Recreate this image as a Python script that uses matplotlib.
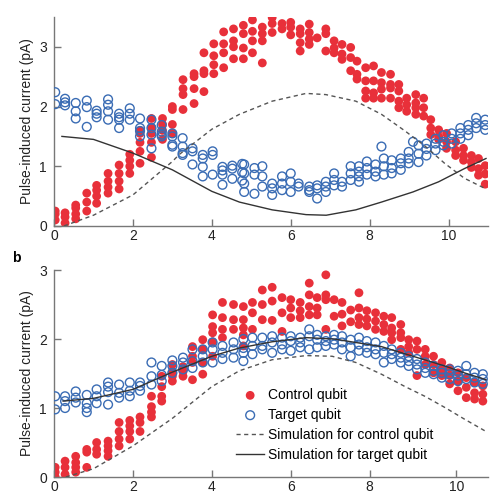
import matplotlib
matplotlib.use("Agg")
import matplotlib.pyplot as plt

plt.rcParams["font.family"] = ["Liberation Sans", "DejaVu Sans"]

RED = "#e8303a"
BLUE = "#3a6cb4"
AXIS = "#777777"

# ---- panel a (top) ----
top_ctrl_cols = [0.03, 0.28, 0.55, 0.83, 1.08, 1.37, 1.65, 1.92, 2.18, 2.47, 2.75, 3.0,
                 3.27, 3.55, 3.8, 4.05, 4.3, 4.55, 4.8, 5.03, 5.28, 5.53, 5.78, 6.0,
                 6.24, 6.47, 6.67, 6.89, 7.1, 7.3, 7.52, 7.68, 7.9, 8.1, 8.3, 8.53,
                 8.74, 8.94, 9.17, 9.37, 9.55, 9.75, 9.95, 10.18, 10.38, 10.58, 10.76, 10.93]
top_ctrl_vals = [[0.1, 0.2, 0.25], [0.05, 0.15, 0.22], [0.12, 0.2, 0.3, 0.35],
                 [0.25, 0.4, 0.55], [0.38, 0.5, 0.6, 0.68], [0.55, 0.65, 0.75, 0.88],
                 [0.62, 0.75, 0.88, 1.02], [0.88, 1.0, 1.1, 1.2], [1.05, 1.25, 1.4, 1.55, 1.6],
                 [1.15, 1.4, 1.55, 1.65, 1.8], [1.45, 1.6, 1.7, 1.8], [1.55, 1.7, 1.95, 2.0],
                 [1.95, 2.2, 2.3, 2.45], [2.05, 2.3, 2.5, 2.55], [2.25, 2.55, 2.6, 2.9],
                 [2.55, 2.7, 2.85, 3.05], [2.65, 2.9, 3.05, 3.25], [2.8, 3.0, 3.1, 3.3],
                 [2.8, 2.98, 3.22, 3.36], [2.9, 3.1, 3.26, 3.45], [2.73, 3.1, 3.22, 3.33],
                 [3.24, 3.39, 3.49], [3.3, 3.39], [3.2, 3.33, 3.41],
                 [2.93, 3.07, 3.22, 3.3], [3.04, 3.13, 3.24, 3.38], [3.15], [2.93, 3.22, 3.3],
                 [2.9, 2.98, 3.1], [2.79, 2.88, 3.04], [2.6, 2.82, 2.99], [2.46, 2.54, 2.76],
                 [2.14, 2.26, 2.43, 2.65], [2.14, 2.23, 2.43, 2.68], [2.14, 2.29, 2.4, 2.57],
                 [2.14, 2.31, 2.37, 2.54], [1.98, 2.09, 2.26, 2.37], [1.92, 2.03, 2.14],
                 [1.87, 1.98, 2.06, 2.2], [1.84, 1.98, 2.14], [1.53, 1.64, 1.78],
                 [1.45, 1.5, 1.61], [1.3, 1.41, 1.55], [1.18, 1.27, 1.41], [1.1, 1.18, 1.3],
                 [0.98, 1.07, 1.18], [0.85, 0.96, 1.13], [0.7, 0.87, 1.01]]

top_tgt_cols = [0.03, 0.28, 0.55, 0.83, 1.08, 1.37, 1.65, 1.92, 2.18, 2.47, 2.73, 3.0,
                3.26, 3.51, 3.77, 4.02, 4.27, 4.52, 4.77, 4.82, 5.08, 5.28, 5.53, 5.78,
                6.0, 6.2, 6.47, 6.67, 6.89, 7.1, 7.3, 7.52, 7.73, 7.93, 8.15, 8.3, 8.36,
                8.56, 8.79, 8.99, 9.1, 9.24, 9.44, 9.67, 9.87, 10.08, 10.3, 10.5, 10.7, 10.93]
top_tgt_vals = [[2.24, 2.04], [2.13, 2.07, 2.02], [2.06, 1.92, 1.8], [2.1, 1.99, 1.66],
                [1.93, 1.88, 1.82], [2.12, 2.03, 1.92, 1.78], [1.88, 1.82, 1.78, 1.64],
                [1.97, 1.88, 1.78], [1.8, 1.64, 1.59, 1.5], [1.78, 1.64, 1.53, 1.3],
                [1.69, 1.58, 1.53, 1.5], [1.55, 1.5, 1.36, 1.33], [1.47, 1.33, 1.22, 1.19],
                [1.3, 1.25, 1.03], [1.19, 1.13, 0.99, 0.83], [1.25, 1.19, 0.86],
                [0.99, 0.93, 0.86, 0.69], [1.01, 0.96, 0.79], [1.04, 0.9, 0.76],
                [1.03, 0.88, 0.71, 0.57], [0.97, 0.86, 0.54], [1.0, 0.83, 0.66],
                [0.71, 0.63, 0.52], [0.83, 0.71, 0.6], [0.88, 0.74, 0.57], [0.71, 0.66],
                [0.66, 0.6, 0.57], [0.68, 0.63, 0.46], [0.74, 0.66, 0.57], [0.88, 0.77, 0.68],
                [0.74, 0.66], [1.0, 0.88, 0.77], [1.0, 0.91, 0.83, 0.74], [1.08, 0.97, 0.86],
                [1.03, 0.91, 0.83], [1.33], [1.13, 1.0, 0.86], [1.1, 0.97, 0.88],
                [1.13, 1.05, 0.94], [1.24, 1.13, 1.05], [1.41], [1.35, 1.21, 1.07],
                [1.38, 1.29, 1.18], [1.46, 1.38, 1.27], [1.52, 1.41, 1.35], [1.55, 1.46, 1.38],
                [1.64, 1.55, 1.46], [1.69, 1.61, 1.52], [1.81, 1.72, 1.64], [1.78, 1.69, 1.61]]

top_sim_ctrl_x = [0.25, 1.0, 2.0, 3.0, 3.18, 4.0, 4.7, 5.53, 6.39, 6.89, 7.65, 8.3, 8.9, 9.4, 9.9, 10.4, 10.95]
top_sim_ctrl_y = [0.0, 0.18, 0.52, 1.08, 1.2, 1.62, 1.87, 2.09, 2.22, 2.2, 2.09, 1.87, 1.59, 1.34, 1.05, 0.8, 0.62]
top_sim_tgt_x = [0.2, 1.0, 2.0, 3.0, 4.0, 4.7, 5.53, 6.39, 6.9, 7.65, 8.3, 9.1, 9.75, 10.4, 10.95]
top_sim_tgt_y = [1.5, 1.45, 1.22, 0.94, 0.58, 0.4, 0.27, 0.19, 0.18, 0.27, 0.4, 0.57, 0.74, 0.96, 1.13]

# ---- panel b (bottom) ----
bot_ctrl_cols = [0.03, 0.28, 0.55, 0.83, 1.08, 1.37, 1.65, 1.92, 2.18, 2.47, 2.73, 3.0,
                 3.27, 3.51, 3.77, 4.02, 4.27, 4.55, 4.8, 5.03, 5.28, 5.53, 5.78, 6.0,
                 6.24, 6.47, 6.67, 6.89, 7.1, 7.3, 7.52, 7.73, 7.93, 8.15, 8.36, 8.56,
                 8.79, 8.99, 9.2, 9.41, 9.62, 9.83, 10.03, 10.24, 10.45, 10.66, 10.87]
bot_ctrl_vals = [[0.14, 0.07, 0.0], [0.23, 0.14, 0.04], [0.3, 0.21, 0.14, 0.07],
                 [0.4, 0.36, 0.14], [0.5, 0.4, 0.33], [0.52, 0.45, 0.38, 0.3],
                 [0.79, 0.66, 0.55, 0.45], [0.82, 0.74, 0.66, 0.55], [0.87, 0.79, 0.66],
                 [1.17, 1.02, 0.94, 0.87], [1.46, 1.31, 1.17, 1.1], [1.63, 1.53, 1.46, 1.39],
                 [1.6, 1.53, 1.46], [1.89, 1.75, 1.66, 1.41], [1.99, 1.85, 1.66, 1.49],
                 [2.35, 2.18, 2.09, 1.96, 1.75], [2.53, 2.31, 2.14, 2.02], [2.5, 2.28, 2.14],
                 [2.47, 2.28, 2.16, 2.06, 1.9], [2.53, 2.38, 2.14], [2.71, 2.5, 2.28],
                 [2.75, 2.55, 2.27], [2.6, 2.38, 2.11], [2.57, 2.45, 2.31], [2.53, 2.41, 2.31],
                 [2.81, 2.64, 2.47, 2.35], [2.6, 2.45, 2.35], [2.93, 2.64, 2.57, 2.14],
                 [2.57, 2.33], [2.53, 2.36, 2.19], [2.42, 2.25], [2.67, 2.45, 2.31, 2.21],
                 [2.41, 2.29, 2.19], [2.38, 2.26, 2.14], [2.33, 2.21, 2.11],
                 [2.31, 2.16, 2.09, 1.99], [2.21, 2.09, 2.02, 1.85], [1.99, 1.89, 1.8],
                 [1.97, 1.85, 1.47], [1.85, 1.75, 1.63], [1.75, 1.63, 1.51], [1.66, 1.56, 1.47],
                 [1.58, 1.47, 1.35], [1.51, 1.39, 1.25], [1.44, 1.3, 1.15], [1.37, 1.22, 1.13],
                 [1.32, 1.2, 1.1]]

bot_tgt_cols = [0.03, 0.28, 0.55, 0.83, 1.08, 1.37, 1.65, 1.92, 2.18, 2.47, 2.73, 3.0,
                3.27, 3.51, 3.77, 4.02, 4.27, 4.55, 4.8, 5.03, 5.28, 5.53, 5.78, 6.0,
                6.24, 6.47, 6.67, 6.89, 7.1, 7.3, 7.52, 7.73, 7.93, 8.15, 8.36, 8.56,
                8.79, 8.99, 9.2, 9.41, 9.62, 9.83, 10.03, 10.24, 10.45, 10.66, 10.87]
bot_tgt_vals = [[1.17, 0.98], [1.17, 1.1, 1.0], [1.24, 1.15, 1.08], [1.19, 1.07, 1.0, 0.94],
                [1.27, 1.17, 1.07], [1.37, 1.31, 1.23, 1.05], [1.34, 1.22, 1.15],
                [1.37, 1.25, 1.17], [1.37, 1.32, 1.25], [1.66, 1.46, 1.34], [1.61, 1.48, 1.39],
                [1.69, 1.61, 1.51], [1.73, 1.66, 1.56], [1.85, 1.68, 1.58], [1.85, 1.75, 1.66],
                [1.95, 1.85, 1.66], [1.9, 1.8, 1.71], [1.95, 1.85, 1.73], [2.0, 1.87, 1.8, 1.68],
                [2.02, 1.9, 1.78], [2.02, 1.9, 1.85], [2.04, 1.95, 1.8], [2.02, 1.92, 1.85],
                [2.04, 1.97, 1.83], [2.02, 1.95, 1.88], [2.14, 2.04, 1.85], [2.06, 1.99, 1.88],
                [2.04, 1.97, 1.9], [2.06, 1.99, 1.92], [2.04, 1.95, 1.85], [1.99, 1.88, 1.75],
                [2.02, 1.92, 1.83], [1.97, 1.88, 1.8], [1.95, 1.85, 1.78], [1.9, 1.8, 1.66],
                [1.85, 1.78, 1.71], [1.8, 1.73, 1.66], [1.75, 1.68, 1.61], [1.71, 1.63, 1.56],
                [1.66, 1.58, 1.51], [1.61, 1.54, 1.49], [1.56, 1.51, 1.44], [1.56, 1.49, 1.42],
                [1.54, 1.47, 1.39], [1.61, 1.49, 1.42], [1.51, 1.44, 1.37], [1.49, 1.42, 1.35]]

bot_sim_ctrl_x = [0.3, 1.0, 2.0, 3.0, 4.0, 4.7, 5.53, 6.39, 7.05, 7.65, 8.3, 8.9, 9.4, 9.9, 10.4, 10.95]
bot_sim_ctrl_y = [0.0, 0.12, 0.45, 0.85, 1.31, 1.54, 1.7, 1.76, 1.75, 1.66, 1.49, 1.31, 1.17, 1.01, 0.84, 0.66]
bot_sim_tgt_x = [0.23, 1.0, 2.0, 3.0, 4.0, 4.7, 5.53, 6.4, 7.1, 8.3, 9.1, 9.9, 10.4, 10.95]
bot_sim_tgt_y = [1.1, 1.14, 1.27, 1.52, 1.75, 1.87, 1.96, 2.02, 2.0, 1.89, 1.75, 1.61, 1.51, 1.41]

legend_labels = ["Control qubit", "Target qubit",
                 "Simulation for control qubit", "Simulation for target qubit"]


def flatten(cols, vals):
    xs, ys = [], []
    for c, v in zip(cols, vals):
        xs += [c] * len(v)
        ys += v
    return xs, ys


def style_axes(ax, ylim, yticks):
    ax.set_xlim(0, 11)
    ax.set_ylim(*ylim)
    ax.set_yticks(yticks)
    for side in ["top", "right"]:
        ax.spines[side].set_visible(False)
    for side in ["left", "bottom"]:
        ax.spines[side].set_color(AXIS)
        ax.spines[side].set_linewidth(1.0)
    ax.tick_params(direction="in", length=5, width=1.0, color=AXIS,
                   labelsize=10, labelcolor="#222222", pad=5)
    ax.tick_params(axis="x", pad=2)
    ax.set_ylabel("Pulse-induced current (pA)", fontsize=10, color="#222222", labelpad=4)


def draw_panel(ax, ctrl, tgt, sim_c, sim_t):
    pc = ax.scatter(*ctrl, s=40, color=RED, edgecolors="none", zorder=2)
    pt = ax.scatter(*tgt, s=40, facecolors="none", edgecolors=BLUE, linewidths=1.0, zorder=3)
    lc, = ax.plot(*sim_c, ls=(0, (3, 2.5)), color="#555555", lw=1.0, zorder=4)
    lt, = ax.plot(*sim_t, ls="-", color="#333333", lw=1.0, zorder=4)
    return pc, pt, lc, lt


fig = plt.figure(figsize=(4.92, 4.96), dpi=100)
ax1 = fig.add_axes([0.1098, 0.5444, 0.882, 0.4214])
ax2 = fig.add_axes([0.1098, 0.0383, 0.882, 0.4173])

draw_panel(ax1, flatten(top_ctrl_cols, top_ctrl_vals), flatten(top_tgt_cols, top_tgt_vals),
           (top_sim_ctrl_x, top_sim_ctrl_y), (top_sim_tgt_x, top_sim_tgt_y))
style_axes(ax1, (0, 3.5), [0, 1, 2, 3])
ax1.set_xticks([0, 2, 4, 6, 8, 10])

handles = draw_panel(ax2, flatten(bot_ctrl_cols, bot_ctrl_vals), flatten(bot_tgt_cols, bot_tgt_vals),
                     (bot_sim_ctrl_x, bot_sim_ctrl_y), (bot_sim_tgt_x, bot_sim_tgt_y))
style_axes(ax2, (0, 3), [0, 1, 2, 3])
ax2.set_xticks([0, 2, 4, 6, 8, 10.2])
ax2.set_xticklabels(["0", "2", "4", "6", "8", "10"])

ax2.legend(handles, legend_labels, loc="upper left", bbox_to_anchor=(0.42, 0.43),
           frameon=False, fontsize=10, handlelength=2.0, handletextpad=0.3,
           labelspacing=0.42, borderaxespad=0, borderpad=0)

fig.text(12 / 492, 1 - 258 / 496, "b", fontsize=10, fontweight="bold", va="center")

fig.savefig("out.png", dpi=100)
